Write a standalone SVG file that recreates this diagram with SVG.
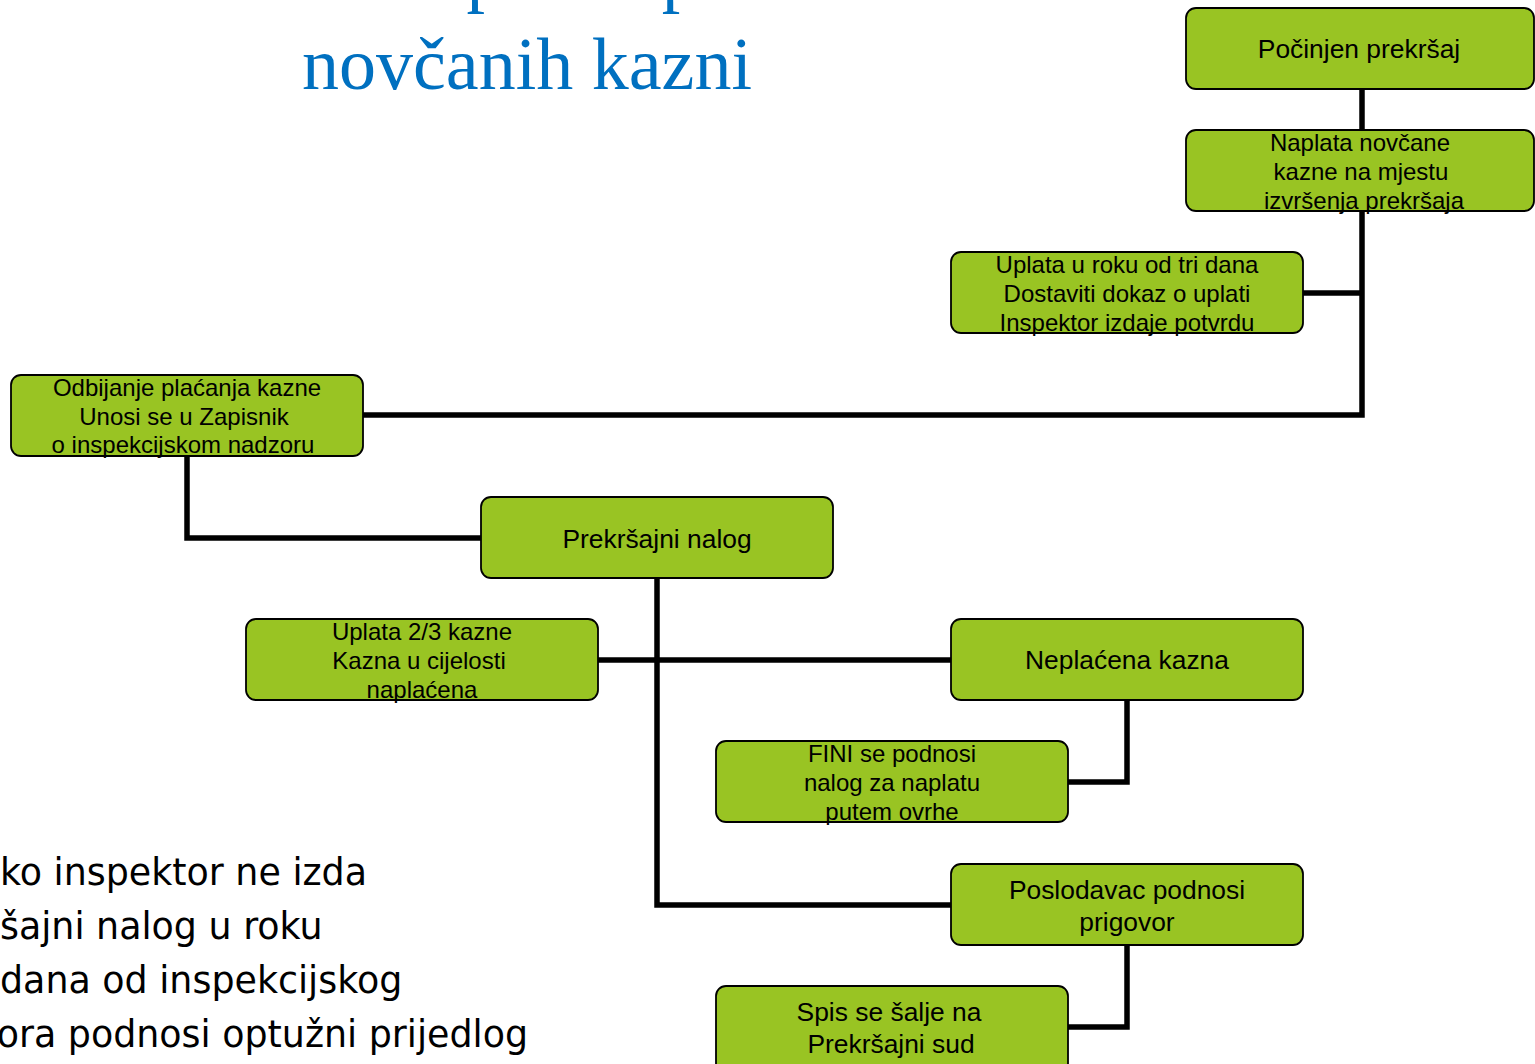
<svg xmlns="http://www.w3.org/2000/svg" width="1535" height="1064" viewBox="0 0 1535 1064">
<style>
.box{fill:#99C423;stroke:#000;stroke-width:1.8}
.t{font-family:"Liberation Sans",Arial,sans-serif;fill:#000;text-anchor:middle}
.s24{font-size:24px}
.s26{font-size:26.4px}
.conn{fill:none;stroke:#000;stroke-width:5.5;stroke-linejoin:miter}
.title{font-family:"Liberation Serif","Times New Roman",serif;font-size:74px;fill:#0070C0}
.body{font-family:"DejaVu Sans",Verdana,sans-serif;font-size:36.4px;fill:#000}
</style>
<rect width="1535" height="1064" fill="#fff"/>
<g id="title">
<text class="title" x="302" y="-2">Postupak naplate</text>
<text class="title" x="302" y="89">novčanih kazni</text>
</g>
<g id="connectors">
<path class="conn" d="M1362 89 V130"/>
<path class="conn" d="M1362 211 V415 H363"/>
<path class="conn" d="M1303 293 H1362"/>
<path class="conn" d="M187 456 V538 H481"/>
<path class="conn" d="M657 578 V905 H951"/>
<path class="conn" d="M598 660 H951"/>
<path class="conn" d="M1127 700 V782 H1068"/>
<path class="conn" d="M1127 945 V1027 H1068"/>
</g>
<g id="n-pocinjen">
<rect class="box" x="1186" y="8" width="348" height="81" rx="10"/>
<text class="t s26" x="1359" y="58">Počinjen prekršaj</text>
</g>
<g id="n-naplata">
<rect class="box" x="1186" y="130" width="348" height="81" rx="10"/>
<text class="t s24" x="1360" y="151">Naplata novčane</text>
<text class="t s24" x="1361" y="180">kazne na mjestu</text>
<text class="t s24" x="1364" y="209">izvršenja prekršaja</text>
</g>
<g id="n-uplata-rok">
<rect class="box" x="951" y="252" width="352" height="81" rx="10"/>
<text class="t s24" x="1127" y="273">Uplata u roku od tri dana</text>
<text class="t s24" x="1127" y="302">Dostaviti dokaz o uplati</text>
<text class="t s24" x="1127" y="331">Inspektor izdaje potvrdu</text>
</g>
<g id="n-odbijanje">
<rect class="box" x="11" y="375" width="352" height="81" rx="10"/>
<text class="t s24" x="187" y="396">Odbijanje plaćanja kazne</text>
<text class="t s24" x="184" y="425">Unosi se u Zapisnik</text>
<text class="t s24" x="183" y="453">o inspekcijskom nadzoru</text>
</g>
<g id="n-prekrsajni-nalog">
<rect class="box" x="481" y="497" width="352" height="81" rx="10"/>
<text class="t s26" x="657" y="548">Prekršajni nalog</text>
</g>
<g id="n-uplata-23">
<rect class="box" x="246" y="619" width="352" height="81" rx="10"/>
<text class="t s24" x="422" y="640">Uplata 2/3 kazne</text>
<text class="t s24" x="419" y="669">Kazna u cijelosti</text>
<text class="t s24" x="422" y="698">naplaćena</text>
</g>
<g id="n-neplacena">
<rect class="box" x="951" y="619" width="352" height="81" rx="10"/>
<text class="t s26" x="1127" y="669">Neplaćena kazna</text>
</g>
<g id="n-fini">
<rect class="box" x="716" y="741" width="352" height="81" rx="10"/>
<text class="t s24" x="892" y="762">FINI se podnosi</text>
<text class="t s24" x="892" y="791">nalog za naplatu</text>
<text class="t s24" x="892" y="820">putem ovrhe</text>
</g>
<g id="n-poslodavac">
<rect class="box" x="951" y="864" width="352" height="81" rx="10"/>
<text class="t s26" x="1127" y="899">Poslodavac podnosi</text>
<text class="t s26" x="1127" y="931">prigovor</text>
</g>
<g id="n-spis">
<rect class="box" x="716" y="986" width="352" height="90" rx="10"/>
<text class="t s26" x="889" y="1021">Spis se šalje na</text>
<text class="t s26" x="891" y="1053">Prekršajni sud</text>
</g>
<g id="body-text">
<text class="body" x="0" y="885">ko inspektor ne izda</text>
<text class="body" x="0" y="939">šajni nalog u roku</text>
<text class="body" x="0" y="993">dana od inspekcijskog</text>
<text class="body" x="528" y="1047" text-anchor="end">ora podnosi optužni prijedlog</text>
</g>
</svg>
